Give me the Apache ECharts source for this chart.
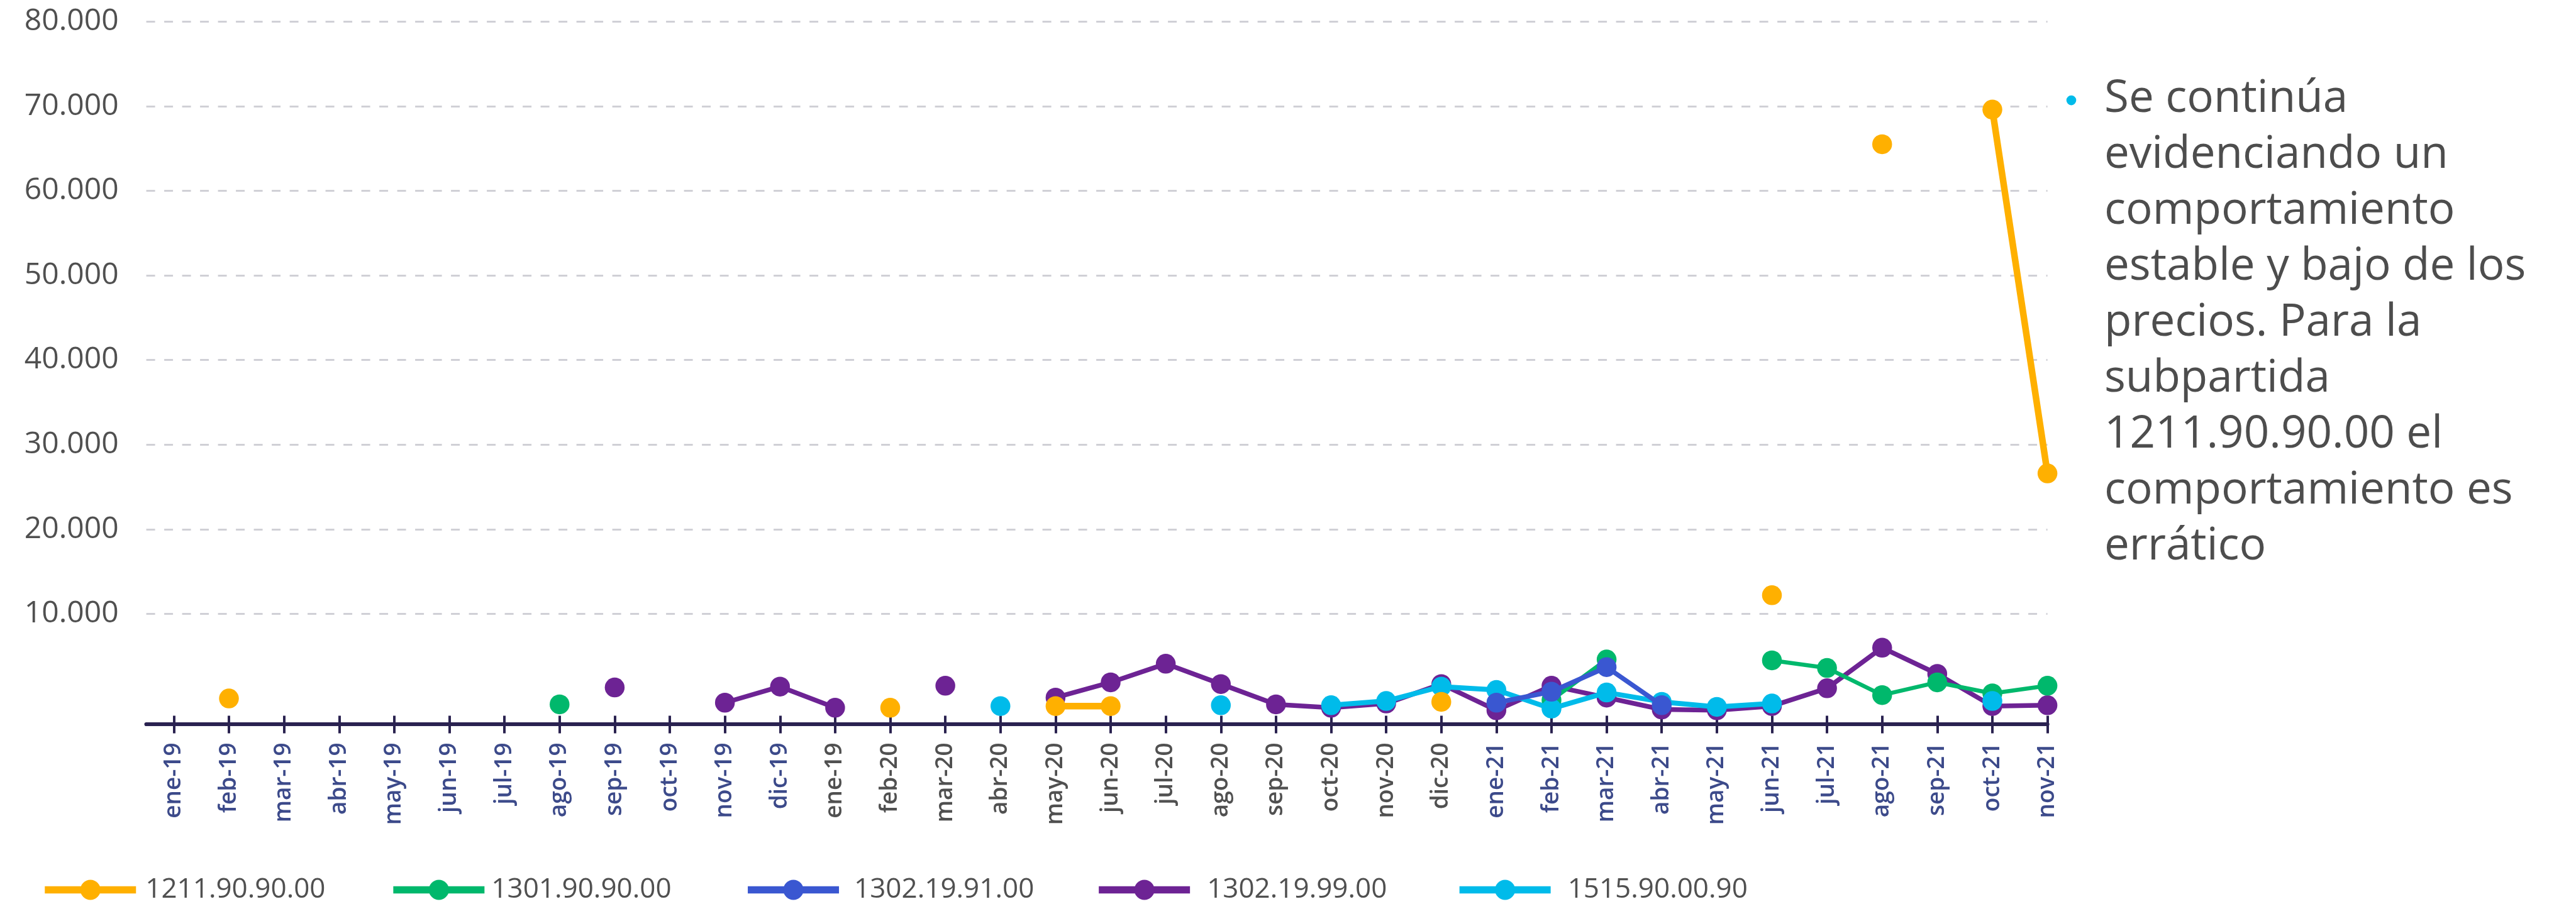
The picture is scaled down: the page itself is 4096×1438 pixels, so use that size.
<!DOCTYPE html>
<html>
<head>
<meta charset="utf-8">
<script src="https://cdn.jsdelivr.net/npm/echarts@6/dist/echarts.min.js"></script>
<style>
html,body{margin:0;padding:0;background:#ffffff;}
#chart{width:4096px;height:1438px;}
</style>
</head>
<body>
<div id="chart"></div>
<script>
// ---------- data ----------
const categories = ['ene-19','feb-19','mar-19','abr-19','may-19','jun-19','jul-19','ago-19','sep-19','oct-19','nov-19','dic-19',
  'ene-19','feb-20','mar-20','abr-20','may-20','jun-20','jul-20','ago-20','sep-20','oct-20','nov-20','dic-20',
  'ene-21','feb-21','mar-21','abr-21','may-21','jun-21','jul-21','ago-21','sep-21','oct-21','nov-21'];

const seriesNames = ['1211.90.90.00','1301.90.90.00','1302.19.91.00','1302.19.99.00','1515.90.00.90'];

const s1211_90_90_00 = [null,0,null,null,null,null,null,null,null,null,null,null,
  null,-1100,null,null,-900,-900,null,null,null,null,null,-400,
  null,null,null,null,null,12200,null,65500,null,69600,26600];

const s1301_90_90_00 = [null,null,null,null,null,null,null,-700,null,null,null,null,
  null,null,null,null,null,null,null,null,null,null,null,null,
  null,-200,4600,null,null,4500,3600,400,1900,600,1500];

const s1302_19_91_00 = [null,null,null,null,null,null,null,null,null,null,null,null,
  null,null,null,null,null,null,null,null,null,null,null,null,
  -500,800,3700,-800,null,null,null,null,null,null,null];

const s1302_19_99_00 = [null,null,null,null,null,null,null,null,1300,null,-500,1400,
  -1100,null,1500,null,100,1900,4100,1700,-700,-1100,-600,1700,
  -1400,1500,100,-1300,-1400,-900,1200,6000,2900,-900,-800];

const s1515_90_00_90 = [null,null,null,null,null,null,null,null,null,null,null,null,
  null,null,null,-900,null,null,null,-800,null,-800,-300,1400,
  1000,-1200,700,-400,-1000,-600,null,null,null,-300,null];

const yTickValues = [10000,20000,30000,40000,50000,60000,70000,80000];

const noteLines = ['Se continúa','evidenciando un','comportamiento','estable y bajo de los',
  'precios. Para la','subpartida','1211.90.90.00 el','comportamiento es','errático'];

// ---------- styling / layout ----------
const seriesValues = [s1211_90_90_00, s1301_90_90_00, s1302_19_91_00, s1302_19_99_00, s1515_90_00_90];
const colors = ['#FFB000','#00B86C','#3A57D1','#6D2394','#00BBEA'];
const lineWidths = [10.5, 6.5, 7.5, 7.5, 8];
const zOrder = [6, 3, 5, 2, 4];
const legendLefts = [65.6, 619.7, 1183.4, 1741.5, 2315];
const legendTextPad = [10, 6, 19, 22, 22];
const axisColor = '#2A2250';
const xTicks = categories.map((c, i) => i);

const fmtThousands = v => String(v).replace(/\B(?=(\d{3})+(?!\d))/g, '.');

const series = seriesNames.map((name, k) => ({
  name: name,
  type: 'line',
  xAxisIndex: 0,
  yAxisIndex: 0,
  data: seriesValues[k].map((v, i) => [i, v === null ? '-' : v]),
  connectNulls: false,
  symbol: 'circle',
  symbolSize: 31.5,
  showSymbol: true,
  showAllSymbol: true,
  lineStyle: { color: colors[k], width: lineWidths[k] },
  itemStyle: { color: colors[k] },
  z: zOrder[k],
  silent: true,
  emphasis: { disabled: true },
  animation: false
}));

const legends = seriesNames.map((name, k) => ({
  data: [name],
  left: legendLefts[k],
  top: 1393.5,
  orient: 'horizontal',
  padding: 0,
  itemGap: 0,
  itemWidth: 145,
  itemHeight: 40,
  selectedMode: false,
  lineStyle: { width: 11.3 },
  textStyle: { fontFamily: 'Open Sans', fontSize: 44, color: '#505050', padding: [0, 0, 0, legendTextPad[k]] }
}));

const option = {
  backgroundColor: '#ffffff',
  animation: false,
  grid: { left: 232.6, right: 840.4, top: 34.3, bottom: 286.6, containLabel: false },
  legend: legends,
  xAxis: [{
    type: 'value',
    min: -0.5,
    max: 34,
    position: 'bottom',
    axisLine: { show: true, onZero: false, lineStyle: { color: axisColor, width: 6.2 } },
    axisTick: { show: true, customValues: xTicks, length: 15, lineStyle: { color: axisColor, width: 4 } },
    axisLabel: {
      show: true,
      customValues: xTicks,
      rotate: 90,
      margin: 30,
      formatter: v => categories[Math.round(v)],
      color: v => (Math.floor(Math.round(+v) / 12) % 2 === 1 ? '#505050' : '#3C4A8A'),
      fontFamily: 'Open Sans',
      fontWeight: 600,
      fontSize: 37
    },
    splitLine: { show: false }
  }, {
    type: 'value',
    min: -0.5,
    max: 34,
    position: 'bottom',
    axisLine: { show: false, onZero: false },
    axisTick: { show: true, inside: true, customValues: xTicks, length: 13, lineStyle: { color: axisColor, width: 4 } },
    axisLabel: { show: false },
    splitLine: { show: false }
  }],
  yAxis: {
    type: 'value',
    min: -3000,
    max: 80000,
    axisLine: { show: false, onZero: false },
    axisTick: { show: false, customValues: yTickValues },
    axisLabel: {
      customValues: yTickValues,
      formatter: v => fmtThousands(v),
      margin: 44,
      color: '#505050',
      fontFamily: 'Open Sans',
      fontSize: 48
    },
    splitLine: { show: true, lineStyle: { color: '#D0D0D6', width: 3.2, type: [14, 14.5] } }
  },
  graphic: [
    { type: 'circle', shape: { cx: 3293.5, cy: 159.6, r: 7.8 }, style: { fill: '#00BBEA' }, silent: true },
    { type: 'text', x: 3346, y: 113, silent: true,
      style: { text: noteLines.join('\n'), fontFamily: 'Open Sans', fontSize: 71, fontWeight: 400,
               lineHeight: 89, fill: '#4D4D4D', verticalAlign: 'top', align: 'left' } }
  ],
  series: series
};

const chart = echarts.init(document.getElementById('chart'), null, { renderer: 'canvas', width: 4096, height: 1438 });
chart.setOption(option);
</script>
</body>
</html>
